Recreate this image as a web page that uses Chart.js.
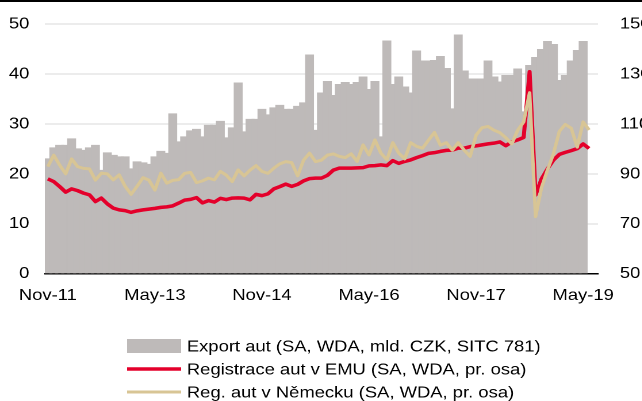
<!DOCTYPE html>
<html>
<head>
<meta charset="utf-8">
<script src="https://cdn.jsdelivr.net/npm/chart.js@4.4.1/dist/chart.umd.min.js"></script>
<style>
  html, body { margin: 0; padding: 0; background: #fff; }
  #wrap { position: absolute; left: 0; top: 0; width: 558px; height: 401px; transform: scaleX(1.15); transform-origin: 0 0; }
  #topline { position: absolute; left: 0; top: 0; width: 642px; height: 2px; background: #000; }
</style>
</head>
<body>
<div id="wrap"><canvas id="chart" width="558" height="401"></canvas></div>
<div id="topline"></div>
<script>
// monthly categories Nov-11 .. Jul-19
const monthNames = ['Jan', 'Feb', 'Mar', 'Apr', 'May', 'Jun', 'Jul', 'Aug', 'Sep', 'Oct', 'Nov', 'Dec'];
const months = [];
for (let k = 0; k < 93; k++) {
    months.push(monthNames[(10 + k) % 12] + '-' + (11 + Math.floor((10 + k) / 12)));
}
const tickLabels = ['Nov-11', 'May-13', 'Nov-14', 'May-16', 'Nov-17', 'May-19'];

// export of cars, bn CZK (left axis), Nov-11 .. May-19
const exportCars = [
    23.1, 25.3, 25.8, 25.8, 27.1, 25.1, 24.8, 25.3, 25.8, 20.8,
    24.3, 23.8, 23.5, 23.5, 21.1, 22.5, 22.3, 22.0, 23.5, 24.6,
    24.2, 32.1, 26.5, 27.5, 28.7, 29.0, 27.5, 29.8, 29.8, 30.6,
    27.3, 29.3, 38.3, 28.5, 31.0, 31.0, 33.0, 31.9, 33.3, 33.8,
    33.0, 33.0, 33.6, 34.3, 43.9, 28.8, 36.3, 38.6, 35.8, 38.0,
    38.4, 38.0, 38.4, 39.5, 37.0, 38.6, 27.5, 46.7, 38.0, 39.5,
    37.5, 36.3, 44.7, 42.7, 42.7, 42.8, 43.6, 41.2, 33.1, 47.9,
    40.7, 39.1, 39.1, 39.1, 42.7, 39.5, 38.5, 39.8, 39.8, 41.1,
    32.5, 41.8, 43.4, 45.0, 46.6, 46.0, 38.8, 39.8, 42.7, 44.8,
    46.6
];

// registrations EMU (right axis), Nov-11 .. Jun-19
const regEmu = [
    88.0, 86.9, 84.9, 82.7, 84.0, 83.3, 82.3, 81.6, 78.9, 80.3,
    78.0, 76.3, 75.6, 75.3, 74.6, 75.2, 75.6, 75.9, 76.2, 76.6,
    76.8, 77.2, 78.3, 79.5, 79.8, 80.5, 78.4, 79.3, 78.7, 80.2,
    79.7, 80.3, 80.4, 80.3, 79.6, 81.8, 81.3, 82.0, 84.0, 84.9,
    85.9, 85.0, 85.8, 87.2, 88.1, 88.3, 88.3, 89.4, 91.5, 92.3,
    92.3, 92.3, 92.4, 92.5, 93.2, 93.3, 93.6, 93.3, 95.3, 94.2,
    95.0, 95.6, 96.5, 97.3, 98.2, 98.5, 99.0, 99.4, 99.5, 100.3,
    100.3, 100.9, 101.2, 101.6, 102.0, 102.3, 102.8, 101.3, 102.8, 103.6,
    104.6, 130.9, 81.5, 88.0, 92.0, 95.5, 97.8, 98.6, 99.3, 100.1,
    102.0, 100.2
];

// registrations Germany (right axis), Nov-11 .. Jun-19
const regDe = [
    92.9, 97.5, 93.5, 90.0, 96.0, 92.9, 92.2, 92.0, 87.5, 90.3,
    90.0, 87.6, 89.6, 85.0, 81.8, 85.0, 88.5, 87.5, 83.5, 90.3,
    86.3, 87.4, 87.7, 90.2, 90.6, 86.5, 87.2, 88.3, 87.6, 91.0,
    89.5, 86.9, 91.6, 89.2, 91.5, 93.3, 91.0, 90.2, 92.3, 94.0,
    94.9, 94.5, 89.2, 95.5, 98.3, 94.9, 95.5, 97.5, 98.0, 97.0,
    96.5, 98.0, 95.0, 101.6, 97.6, 103.6, 98.3, 95.6, 102.5, 98.3,
    96.0, 102.5, 101.0, 100.3, 103.5, 106.6, 101.5, 102.5, 99.5, 102.5,
    99.5, 97.0, 105.5, 108.5, 109.0, 107.5, 106.5, 104.5, 102.0, 107.5,
    110.8, 122.5, 72.9, 84.5, 91.5, 98.0, 107.0, 109.8, 108.3, 100.7,
    110.8, 107.6
];

Chart.defaults.font.family = '"Liberation Sans", Arial, sans-serif';
Chart.defaults.font.size = 16;
Chart.defaults.color = '#000';

// legend drawn as a left-aligned list under the axis
const listLegend = {
    id: 'listLegend',
    afterDraw(chart) {
        const ctx = chart.ctx;
        ctx.save();
        ctx.font = '16px "Liberation Sans", Arial, sans-serif';
        ctx.textBaseline = 'middle';
        chart.data.datasets.forEach((ds, k) => {
            const y = 346 + k * 23;
            if (ds.type === 'bar') {
                ctx.fillStyle = ds.backgroundColor;
                ctx.fillRect(110.5, y - 7, 47, 14);
            } else {
                ctx.strokeStyle = ds.borderColor;
                ctx.lineWidth = ds.borderWidth;
                ctx.beginPath();
                ctx.moveTo(110.5, y);
                ctx.lineTo(157.5, y);
                ctx.stroke();
            }
            ctx.fillStyle = '#000';
            ctx.fillText(ds.label, 162.5, y + 1);
        });
        ctx.restore();
    }
};

new Chart(document.getElementById('chart'), {
    data: {
        labels: months,
        datasets: [{
            type: 'bar',
            label: 'Export aut (SA, WDA, mld. CZK, SITC 781)',
            data: exportCars,
            backgroundColor: '#BEBAB9',
            barPercentage: 1.5,
            categoryPercentage: 1,
            yAxisID: 'y',
            clip: 0,
            order: 3
        }, {
            type: 'line',
            label: 'Registrace aut v EMU (SA, WDA, pr. osa)',
            data: regEmu,
            borderColor: '#E4002B',
            borderWidth: 3.5,
            borderJoinStyle: 'round',
            pointRadius: 0,
            tension: 0,
            yAxisID: 'y1',
            order: 2
        }, {
            type: 'line',
            label: 'Reg. aut v Německu (SA, WDA, pr. osa)',
            data: regDe,
            borderColor: '#D8C595',
            borderWidth: 3,
            borderJoinStyle: 'round',
            pointRadius: 0,
            tension: 0,
            yAxisID: 'y1',
            order: 1
        }]
    },
    options: {
        responsive: false,
        devicePixelRatio: 2,
        animation: false,
        layout: { padding: { top: 24, bottom: 91, left: 0, right: 0 } },
        plugins: { legend: { display: false }, tooltip: { enabled: false } },
        scales: {
            x: {
                offset: true,
                grid: {
                    offset: true,
                    drawOnChartArea: false,
                    tickLength: 7,
                    tickWidth: 1.5,
                    tickColor: ctx => (ctx.index % 18 === 0 && ctx.index <= 90) ? '#000' : 'rgba(0,0,0,0)'
                },
                border: { color: '#000', width: 1.5 },
                ticks: {
                    autoSkip: false,
                    maxRotation: 0,
                    padding: 5,
                    callback: (v, i) => tickLabels.includes(months[i]) ? months[i] : null
                }
            },
            y: {
                position: 'left',
                min: 0,
                max: 50,
                ticks: { stepSize: 10, padding: 13.5 },
                grid: { color: '#D9D9D9', lineWidth: 1, drawTicks: false },
                border: { display: false },
                afterFit: s => { s.width = 39; }
            },
            y1: {
                position: 'right',
                min: 50,
                max: 150,
                ticks: { stepSize: 20, padding: 14 },
                // invisible tick marks only to push the labels out
                grid: { drawOnChartArea: false, drawTicks: true, tickLength: 5, color: 'rgba(0,0,0,0)' },
                border: { display: false },
                afterFit: s => { s.width = 38; }
            }
        }
    },
    plugins: [listLegend]
});
</script>
</body>
</html>
